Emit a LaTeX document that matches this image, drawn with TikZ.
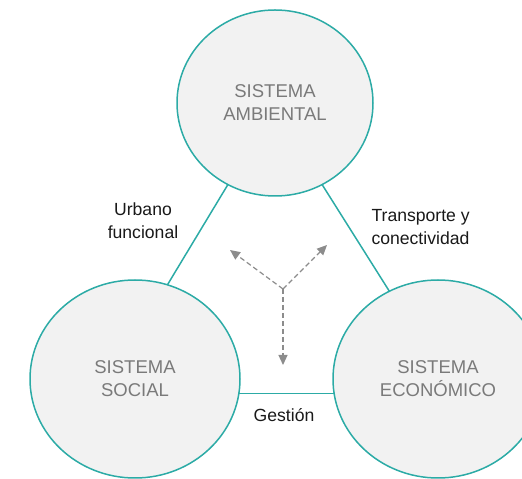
\documentclass[tikz,border=0pt]{standalone}
\usepackage{fontspec}
\setmainfont{Liberation Sans}
\usetikzlibrary{shapes.geometric, arrows.meta}
\definecolor{teal-line}{HTML}{2CABA6}
\definecolor{circle-bg}{HTML}{F2F2F2}
\definecolor{circle-text}{HTML}{7A7A7A}
\definecolor{flow-grey}{HTML}{8C8C8C}

\begin{document}
\begin{tikzpicture}[x=1pt, y=1pt,
      sistema/.style={ellipse, draw=teal-line, line width=1.5pt, fill=circle-bg,
        inner sep=0pt, outer sep=0pt, text=circle-text, align=center,
        font=\fontsize{18.5}{23}\selectfont},
      enlace/.style={draw=teal-line, line width=1.5pt},
      etiqueta/.style={font=\fontsize{17.6}{23}\selectfont, text=black!90},
      flujo/.style={draw=flow-grey, line width=1.2pt, dash pattern=on 5pt off 3pt,
        -{Triangle[length=10pt, width=9pt]}}]
    \useasboundingbox (0,0) rectangle (522,479);
    \clip (0,0) rectangle (522,479);
    \node[sistema, minimum width=196pt, minimum height=186pt] (amb) at (275,376) {SISTEMA\\AMBIENTAL};
    \node[sistema, minimum width=210pt, minimum height=198pt] (soc) at (135,100) {SISTEMA\\SOCIAL};
    \node[sistema, minimum width=210pt, minimum height=198pt] (eco) at (438,100) {SISTEMA\\ECONÓMICO};
    \draw[enlace] (amb.240) -- (soc.71.6);
    \draw[enlace] (amb.300) -- (eco.119.3);
    \draw[enlace] (soc.-8.2) -- (eco.188.2);
    \node[etiqueta, align=center] (urb) at (143,258) {Urbano\\funcional};
    \node[etiqueta, align=left, anchor=west] (tra) at (368,251.5) {Transporte y\\conectividad};
    \node[etiqueta] (ges) at (284,64) {Gestión};
    \coordinate (centro) at (283,190);
    \coordinate (f1) at (230,229);
    \coordinate (f2) at (327,234);
    \coordinate (f3) at (283,114);
    \foreach \p in {f1, f2, f3}
      \draw[flujo] (centro) -- (\p);
  \end{tikzpicture}
\end{document}
